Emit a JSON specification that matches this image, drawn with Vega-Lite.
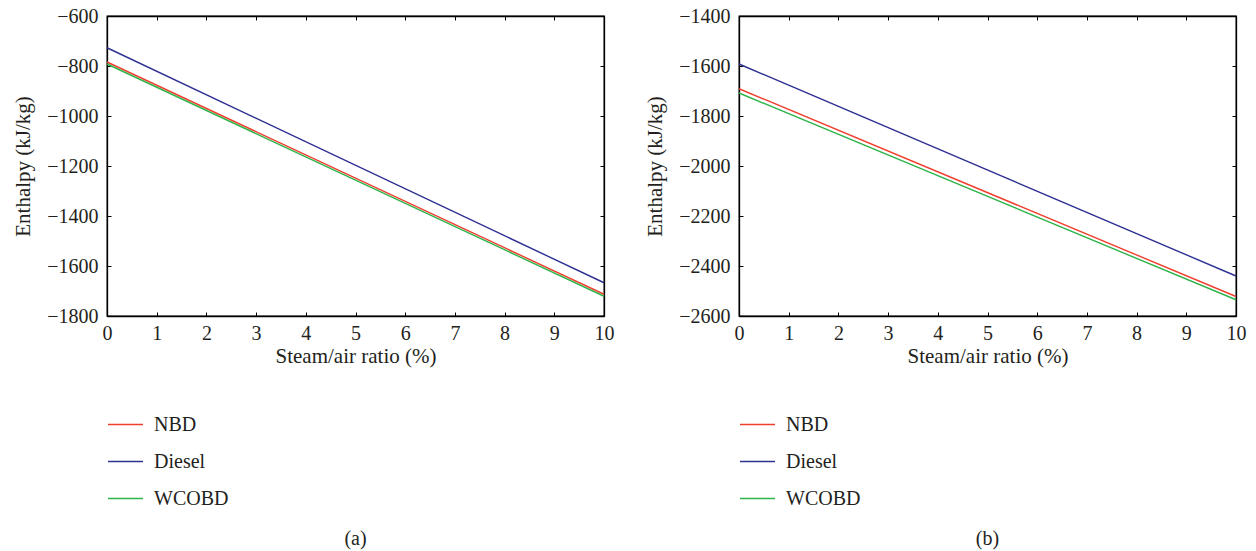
{
  "$schema": "https://vega.github.io/schema/vega-lite/v6.json",
  "padding": {"left": 12, "top": 5, "right": 10, "bottom": 5},
  "background": "white",
  "datasets": {
    "a": [
      {"fuel": "NBD", "ratio": 0, "enthalpy": -784},
      {"fuel": "NBD", "ratio": 10, "enthalpy": -1713},
      {"fuel": "Diesel", "ratio": 0, "enthalpy": -727},
      {"fuel": "Diesel", "ratio": 10, "enthalpy": -1667},
      {"fuel": "WCOBD", "ratio": 0, "enthalpy": -792},
      {"fuel": "WCOBD", "ratio": 10, "enthalpy": -1721}
    ],
    "b": [
      {"fuel": "NBD", "ratio": 0, "enthalpy": -1691},
      {"fuel": "NBD", "ratio": 10, "enthalpy": -2522},
      {"fuel": "Diesel", "ratio": 0, "enthalpy": -1592},
      {"fuel": "Diesel", "ratio": 10, "enthalpy": -2440},
      {"fuel": "WCOBD", "ratio": 0, "enthalpy": -1708},
      {"fuel": "WCOBD", "ratio": 10, "enthalpy": -2535}
    ]
  },
  "config": {
    "font": "Liberation Serif",
    "view": {"stroke": "#000", "strokeWidth": 1.3},
    "axis": {
      "labelFont": "Liberation Serif",
      "titleFont": "Liberation Serif",
      "labelFontSize": 20,
      "titleFontSize": 21,
      "titleFontWeight": "normal",
      "labelColor": "#231f20",
      "titleColor": "#231f20",
      "tickColor": "#000",
      "domainColor": "#000",
      "domainWidth": 1.3,
      "tickWidth": 1,
      "grid": false,
      "tickSize": -4,
      "labelFlush": false,
      "labelOverlap": false
    },
    "legend": {
      "labelFont": "Liberation Serif",
      "labelFontSize": 20,
      "labelColor": "#231f20"
    },
    "title": {"font": "Liberation Serif", "fontSize": 20, "fontWeight": "normal", "color": "#231f20"}
  },
  "resolve": {"legend": {"color": "independent"}},
  "bounds": "flush",
  "spacing": 135,
  "hconcat": [
    {
      "width": 497,
      "height": 300,
      "data": {"name": "a"},
      "title": {"text": "(a)", "orient": "bottom", "anchor": "middle", "offset": 20},
      "layer": [
        {
          "mark": {"type": "line", "strokeWidth": 1.4},
          "encoding": {
            "x": {"field": "ratio", "type": "quantitative", "scale": {"domain": [0, 10], "nice": false},
              "axis": {"orient": "bottom", "title": "Steam/air ratio (%)", "values": [0,1,2,3,4,5,6,7,8,9,10], "labelPadding": 11, "titlePadding": 2}},
            "y": {"field": "enthalpy", "type": "quantitative", "scale": {"domain": [-1800, -600], "nice": false},
              "axis": {"orient": "left", "title": "Enthalpy (kJ/kg)", "values": [-1800,-1600,-1400,-1200,-1000,-800,-600], "format": "d", "labelPadding": 13, "titlePadding": 13}},
            "color": {"field": "fuel", "type": "nominal",
              "scale": {"domain": ["NBD", "Diesel", "WCOBD"], "range": ["#ef3e2d", "#2e3092", "#2db34a"]},
              "legend": {"title": null, "orient": "none", "legendX": 0, "legendY": 390, "symbolType": "stroke", "symbolSize": 1225, "symbolStrokeWidth": 1.5, "labelOffset": 10, "rowPadding": 8, "padding": 0}}
          }
        },
        {
          "mark": {"type": "line", "opacity": 0},
          "encoding": {
            "x": {"field": "ratio", "type": "quantitative", "axis": {"orient": "top", "labels": false, "title": null, "values": [0,1,2,3,4,5,6,7,8,9,10]}},
            "y": {"field": "enthalpy", "type": "quantitative", "axis": {"orient": "right", "labels": false, "title": null, "values": [-1800,-1600,-1400,-1200,-1000,-800,-600]}},
            "detail": {"field": "fuel"}
          }
        }
      ],
      "resolve": {"axis": {"x": "independent", "y": "independent"}}
    },
    {
      "width": 497,
      "height": 300,
      "data": {"name": "b"},
      "title": {"text": "(b)", "orient": "bottom", "anchor": "middle", "offset": 20},
      "layer": [
        {
          "mark": {"type": "line", "strokeWidth": 1.4},
          "encoding": {
            "x": {"field": "ratio", "type": "quantitative", "scale": {"domain": [0, 10], "nice": false},
              "axis": {"orient": "bottom", "title": "Steam/air ratio (%)", "values": [0,1,2,3,4,5,6,7,8,9,10], "labelPadding": 11, "titlePadding": 2}},
            "y": {"field": "enthalpy", "type": "quantitative", "scale": {"domain": [-2600, -1400], "nice": false},
              "axis": {"orient": "left", "title": "Enthalpy (kJ/kg)", "values": [-2600,-2400,-2200,-2000,-1800,-1600,-1400], "format": "d", "labelPadding": 13, "titlePadding": 13}},
            "color": {"field": "fuel", "type": "nominal",
              "scale": {"domain": ["NBD", "Diesel", "WCOBD"], "range": ["#ef3e2d", "#2e3092", "#2db34a"]},
              "legend": {"title": null, "orient": "none", "legendX": 0, "legendY": 390, "symbolType": "stroke", "symbolSize": 1225, "symbolStrokeWidth": 1.5, "labelOffset": 10, "rowPadding": 8, "padding": 0}}
          }
        },
        {
          "mark": {"type": "line", "opacity": 0},
          "encoding": {
            "x": {"field": "ratio", "type": "quantitative", "axis": {"orient": "top", "labels": false, "title": null, "values": [0,1,2,3,4,5,6,7,8,9,10]}},
            "y": {"field": "enthalpy", "type": "quantitative", "axis": {"orient": "right", "labels": false, "title": null, "values": [-2600,-2400,-2200,-2000,-1800,-1600,-1400]}},
            "detail": {"field": "fuel"}
          }
        }
      ],
      "resolve": {"axis": {"x": "independent", "y": "independent"}}
    }
  ]
}
